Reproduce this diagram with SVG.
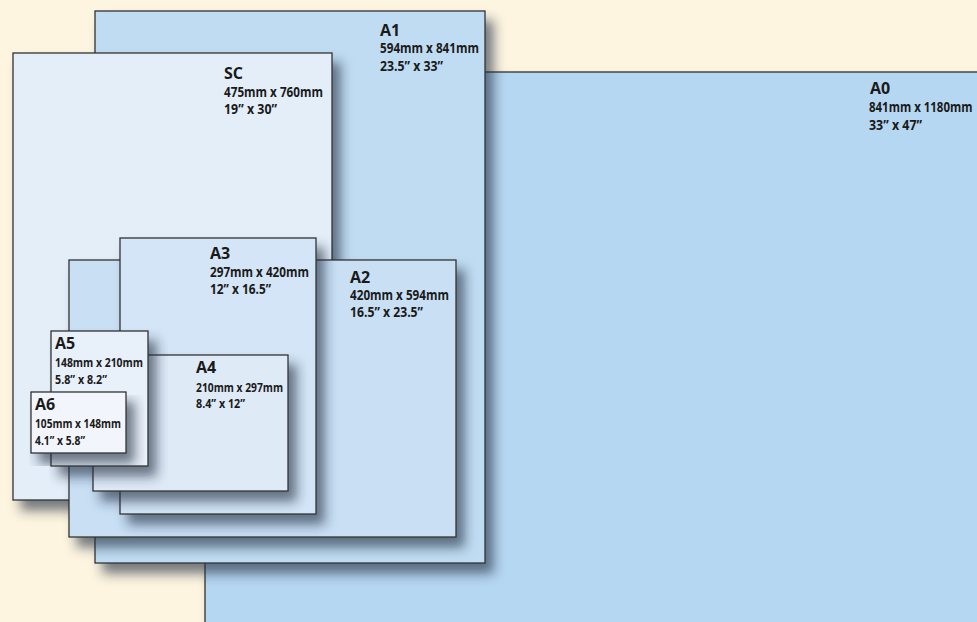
<svg xmlns="http://www.w3.org/2000/svg" width="977" height="622" viewBox="0 0 977 622">
<defs>
<filter id="sh" x="-10%" y="-10%" width="130%" height="130%">
<feGaussianBlur in="SourceAlpha" stdDeviation="6"/>
<feOffset dx="8" dy="10" result="b"/>
<feFlood flood-color="#1f2d40" flood-opacity="0.62"/>
<feComposite in2="b" operator="in"/>
<feMerge><feMergeNode/><feMergeNode in="SourceGraphic"/></feMerge>
</filter>
</defs>
<style>
.pg{stroke:#333;stroke-width:1.3;filter:url(#sh)}
.t{font-family:"Open Sans","Liberation Sans",sans-serif;font-weight:700;font-size:16px;fill:#1a1a1a}
.s{font-family:"Open Sans","Liberation Sans",sans-serif;font-weight:700;font-size:13.5px;fill:#1a1a1a}
.ss{font-family:"Open Sans","Liberation Sans",sans-serif;font-weight:700;font-size:12.5px;fill:#1a1a1a}
</style>
<rect width="977" height="622" fill="#fef5e0"/>
<g id="A0">
<rect x="205" y="72" width="790" height="570" fill="#b6d7f1" class="pg"/>
<text class="t" x="870" y="94">A0</text>
<text class="s" transform="translate(869,112) scale(0.85,1)" x="0" y="0">841mm x 1180mm</text>
<text class="s" x="869" y="130" textLength="53" lengthAdjust="spacingAndGlyphs">33” x 47”</text>
</g>
<g id="A1">
<rect x="95" y="11" width="390" height="552" fill="#c0dcf2" class="pg"/>
<text class="t" x="380" y="36">A1</text>
<text class="s" x="380" y="53" textLength="99" lengthAdjust="spacingAndGlyphs">594mm x 841mm</text>
<text class="s" x="380" y="71" textLength="63" lengthAdjust="spacingAndGlyphs">23.5” x 33”</text>
</g>
<g id="SC">
<rect x="13" y="53" width="319" height="447" fill="#e3eef9" class="pg"/>
<text class="t" x="224" y="79">SC</text>
<text class="s" x="224" y="97" textLength="99" lengthAdjust="spacingAndGlyphs">475mm x 760mm</text>
<text class="s" x="224" y="114" textLength="53" lengthAdjust="spacingAndGlyphs">19” x 30”</text>
</g>
<g id="A2">
<rect x="69" y="260" width="387" height="277" fill="#c8dff4" class="pg"/>
<text class="t" x="350" y="283">A2</text>
<text class="s" x="350" y="300" textLength="99" lengthAdjust="spacingAndGlyphs">420mm x 594mm</text>
<text class="s" x="350" y="317" textLength="73" lengthAdjust="spacingAndGlyphs">16.5” x 23.5”</text>
</g>
<g id="A3">
<rect x="120" y="238" width="196" height="276" fill="#d3e5f6" class="pg"/>
<text class="t" x="210" y="259">A3</text>
<text class="s" x="210" y="277" textLength="99" lengthAdjust="spacingAndGlyphs">297mm x 420mm</text>
<text class="s" x="210" y="294" textLength="61" lengthAdjust="spacingAndGlyphs">12” x 16.5”</text>
</g>
<g id="A4">
<rect x="93" y="355" width="195" height="136" fill="#dfeaf7" class="pg"/>
<text class="t" x="196" y="373">A4</text>
<text class="ss" x="196" y="392" textLength="87" lengthAdjust="spacingAndGlyphs">210mm x 297mm</text>
<text class="ss" x="196" y="408" textLength="49" lengthAdjust="spacingAndGlyphs">8.4” x 12”</text>
</g>
<g id="A5">
<rect x="51" y="331" width="97" height="135" fill="#e8f0fa" class="pg"/>
<text class="t" x="55" y="349">A5</text>
<text class="ss" x="55" y="367" textLength="88" lengthAdjust="spacingAndGlyphs">148mm x 210mm</text>
<text class="ss" x="55" y="384" textLength="52" lengthAdjust="spacingAndGlyphs">5.8” x 8.2”</text>
</g>
<g id="A6">
<rect x="31" y="392" width="95" height="61" fill="#f2f6fc" class="pg"/>
<text class="t" x="35" y="410">A6</text>
<text class="ss" x="35" y="428" textLength="86" lengthAdjust="spacingAndGlyphs">105mm x 148mm</text>
<text class="ss" x="35" y="445" textLength="50" lengthAdjust="spacingAndGlyphs">4.1” x 5.8”</text>
</g>
<g id="connectors"/>
</svg>
